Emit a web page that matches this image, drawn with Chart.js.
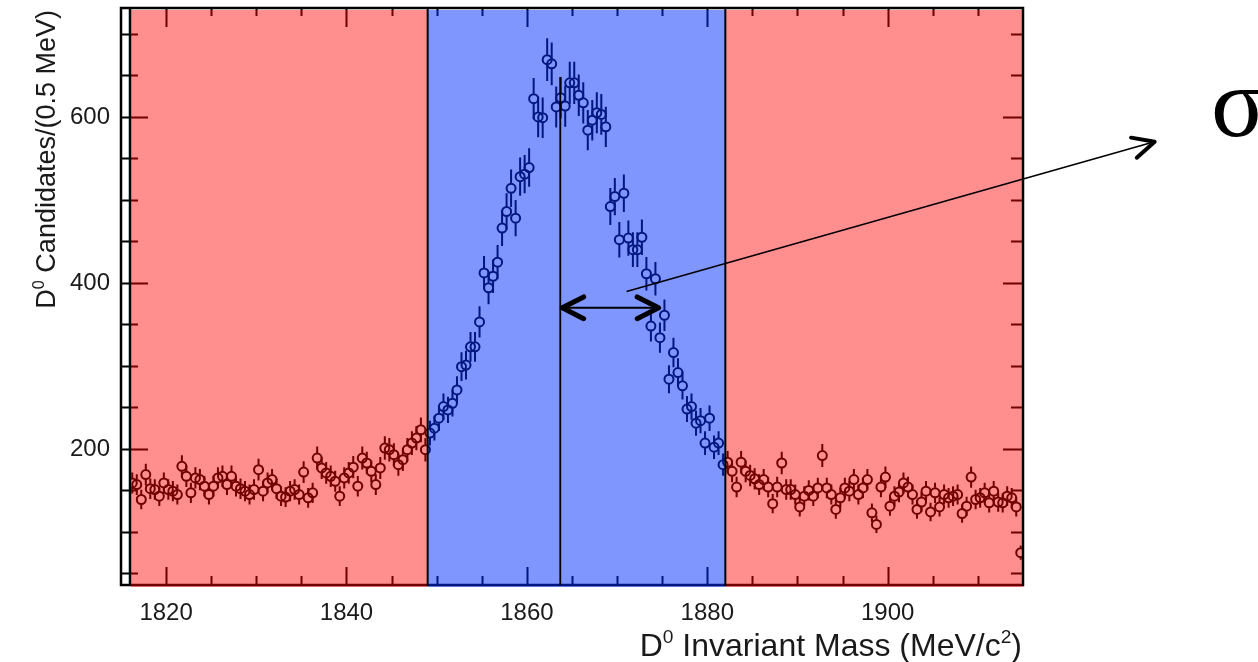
<!DOCTYPE html>
<html>
<head>
<meta charset="utf-8">
<script src="https://cdn.jsdelivr.net/npm/chart.js@4.4.1/dist/chart.umd.min.js"></script>
<style>
  html, body { margin: 0; padding: 0; background: #fff; }
</style>
</head>
<body>
<canvas id="massChart" width="1258" height="662"></canvas>
<script>
// D0 invariant mass histogram, 0.5 MeV bins from 1816 to 1915 MeV
const binStart = 1816;
const binWidth = 0.5;

// counts per bin
const lowSideband = [159, 157, 139, 169, 152, 151, 143, 159, 151, 149, 145, 179, 167, 147, 165, 163, 155, 145, 155, 165, 167, 157, 167, 155, 152, 149, 145, 151, 175, 149, 159, 163, 152, 143,
  142, 149, 151, 145, 172, 141, 147, 189, 177, 171, 167, 161, 143, 165, 171, 178, 155, 189, 183, 173, 157, 177, 201, 199, 193, 181, 187, 199, 207, 213, 223, 199];
const signalWindow = [219, 225, 237, 251, 247, 255, 271, 299, 301, 323, 323, 353, 412, 394, 408, 425, 466, 486, 514, 478, 528, 531, 539, 622, 600, 599, 669, 664, 612, 623, 613, 641, 641,
  626, 617, 584, 596, 605, 603, 588, 492, 504, 452, 508, 454, 440, 440, 455, 411, 348, 405, 334, 361, 284, 316, 292, 276, 248, 251, 231, 234, 207, 237, 202, 207, 181];
const highSideband = [184, 173, 154, 184, 173, 168, 164, 157, 163, 154, 134, 154, 183, 151, 151, 145, 130, 143, 150, 143, 153, 192, 153, 145, 127, 141, 153, 149, 163, 145, 153, 163, 123,
  109, 154, 166, 131, 143, 148, 159, 154, 145, 127, 136, 149, 124, 147, 130, 145, 141, 143, 145, 122, 131, 166, 139, 141, 147, 135, 149, 136, 135, 143, 141, 130, 75];

const xTicks = [1820, 1840, 1860, 1880, 1900];
const yTicks = [200, 400, 600];

// regions and annotation (MeV, counts)
const signalRange = [1849, 1882];
const meanMass = 1863.7;
const meanLineTop = 648;
const sigmaEdge = 1874.6;
const sigmaLevel = 370;
const pointerFrom = [1871.05, 389.5];
const pointerTo = [1929.6, 570];

const counts = lowSideband.concat(signalWindow, highSideband);
const points = counts.map((c, i) => ({ x: binStart + binWidth * (i + 0.5), y: c }));

const FONT = "'Liberation Sans', Arial, Helvetica, sans-serif";

function chevron(ctx, tx, ty, backAngle, len, spread, lw) {
  ctx.save();
  ctx.lineWidth = lw;
  ctx.lineCap = 'round';
  ctx.lineJoin = 'round';
  ctx.beginPath();
  ctx.moveTo(tx + len * Math.cos(backAngle - spread), ty + len * Math.sin(backAngle - spread));
  ctx.lineTo(tx, ty);
  ctx.lineTo(tx + len * Math.cos(backAngle + spread), ty + len * Math.sin(backAngle + spread));
  ctx.stroke();
  ctx.restore();
}

function richText(ctx, parts, x, y, size, align) {
  const widths = parts.map(p => {
    ctx.font = (p.sup ? size * 0.6 : size) + 'px ' + FONT;
    return ctx.measureText(p.t).width;
  });
  const total = widths.reduce((a, b) => a + b, 0);
  let cx = align === 'right' ? x - total : x;
  ctx.textAlign = 'left';
  ctx.textBaseline = 'alphabetic';
  parts.forEach((p, i) => {
    ctx.font = (p.sup ? size * 0.6 : size) + 'px ' + FONT;
    ctx.fillText(p.t, cx, p.sup ? y - size * 0.42 : y);
    cx += widths[i];
  });
}

const histoPlugin = {
  id: 'histo',
  beforeDraw(chart) {
    const ctx = chart.ctx;
    ctx.save();
    ctx.fillStyle = '#fff';
    ctx.fillRect(0, 0, chart.width, chart.height);
    ctx.restore();
  },
  beforeDatasetsDraw(chart) {
    const { ctx, chartArea: a, scales: { x, y } } = chart;
    ctx.save();
    // error bars (sqrt N), kept outside the marker
    ctx.beginPath();
    ctx.rect(a.left, a.top, a.right - a.left, a.bottom - a.top);
    ctx.clip();
    ctx.strokeStyle = '#000';
    ctx.lineWidth = 2;
    const r = 5;
    points.forEach(p => {
      const px = x.getPixelForValue(p.x);
      const py = y.getPixelForValue(p.y);
      const e = Math.sqrt(p.y);
      const top = y.getPixelForValue(p.y + e);
      const bot = y.getPixelForValue(p.y - e);
      ctx.beginPath();
      ctx.moveTo(px, top); ctx.lineTo(px, py - r);
      ctx.moveTo(px, py + r); ctx.lineTo(px, bot);
      ctx.stroke();
    });
    ctx.restore();

    // tick marks drawn inside the frame
    ctx.save();
    ctx.strokeStyle = '#000';
    ctx.lineWidth = 2;
    ctx.beginPath();
    for (let v = 50; v < y.max; v += 50) {
      const py = Math.round(y.getPixelForValue(v)) + 0.5;
      if (py < a.top + 2 || py > a.bottom - 2) continue;
      const major = yTicks.includes(v);
      ctx.moveTo(121, py); ctx.lineTo(a.left + (major ? 18 : 8), py);
      ctx.moveTo(a.right, py); ctx.lineTo(a.right - (major ? 20 : 12), py);
    }
    for (let v = 1820; v < x.max; v += 5) {
      const px = Math.round(x.getPixelForValue(v)) + 0.5;
      const major = xTicks.includes(v);
      ctx.moveTo(px, a.bottom); ctx.lineTo(px, a.bottom - (major ? 18 : 9));
      ctx.moveTo(px, a.top); ctx.lineTo(px, a.top + (major ? 18 : 7));
    }
    ctx.stroke();
    // frame
    ctx.lineWidth = 2.5;
    ctx.strokeRect(121, 8, a.right - 121, a.bottom - 8);
    ctx.beginPath();
    ctx.moveTo(a.left, 8); ctx.lineTo(a.left, a.bottom);
    ctx.stroke();
    ctx.restore();
  },
  afterDatasetsDraw(chart) {
    const { ctx, chartArea: a, scales: { x, y } } = chart;
    const x1 = x.getPixelForValue(signalRange[0]);
    const x2 = x.getPixelForValue(signalRange[1]);
    ctx.save();
    // translucent sideband / signal boxes
    ctx.fillStyle = 'rgba(255, 0, 0, 0.44)';
    ctx.fillRect(a.left + 1, a.top + 1, x1 - a.left - 1, a.bottom - a.top + 1);
    ctx.fillRect(x2, a.top + 1, a.right - x2, a.bottom - a.top + 1);
    ctx.fillStyle = 'rgba(0, 45, 255, 0.5)';
    ctx.fillRect(x1, a.top + 1, x2 - x1, a.bottom - a.top + 1);
    ctx.strokeStyle = '#000';
    ctx.lineWidth = 2;
    ctx.beginPath();
    ctx.moveTo(x1, a.top); ctx.lineTo(x1, a.bottom + 1);
    ctx.moveTo(x2, a.top); ctx.lineTo(x2, a.bottom + 1);
    ctx.moveTo(a.right, a.top); ctx.lineTo(a.right, a.bottom + 1);
    ctx.stroke();

    // mean line
    const mx = x.getPixelForValue(meanMass);
    ctx.lineWidth = 1.8;
    ctx.beginPath();
    ctx.moveTo(mx, y.getPixelForValue(meanLineTop));
    ctx.lineTo(mx, a.bottom);
    ctx.stroke();

    // sigma double arrow
    const sy = y.getPixelForValue(sigmaLevel);
    const sx2 = x.getPixelForValue(sigmaEdge);
    ctx.lineWidth = 2;
    ctx.beginPath();
    ctx.moveTo(mx + 2, sy); ctx.lineTo(sx2 - 2, sy);
    ctx.stroke();
    chevron(ctx, mx + 2, sy, 0, 24, 0.47, 5);
    chevron(ctx, sx2, sy, Math.PI, 24, 0.47, 5);

    // pointer towards the label
    const fx = x.getPixelForValue(pointerFrom[0]);
    const fy = y.getPixelForValue(pointerFrom[1]);
    const tx = x.getPixelForValue(pointerTo[0]);
    const ty = y.getPixelForValue(pointerTo[1]);
    ctx.lineWidth = 1.6;
    ctx.beginPath();
    ctx.moveTo(fx, fy); ctx.lineTo(tx - 2, ty + 0.5);
    ctx.stroke();
    chevron(ctx, tx, ty, Math.atan2(fy - ty, fx - tx), 24, 0.45, 4);
    ctx.restore();
  },
  afterDraw(chart) {
    const ctx = chart.ctx;
    ctx.save();
    ctx.fillStyle = '#1a1a1a';
    richText(ctx, [{ t: 'D' }, { t: '0', sup: true }, { t: ' Invariant Mass (MeV/c' }, { t: '2', sup: true }, { t: ')' }], 1022, 656, 32, 'right');
    ctx.translate(55, 10);
    ctx.rotate(-Math.PI / 2);
    richText(ctx, [{ t: 'D' }, { t: '0', sup: true }, { t: ' Candidates/(0.5 MeV)' }], 0, 0, 27, 'right');
    ctx.restore();

    ctx.save();
    ctx.fillStyle = '#000';
    ctx.font = "100px 'Liberation Serif', 'DejaVu Serif', serif";
    ctx.textAlign = 'left';
    ctx.textBaseline = 'alphabetic';
    ctx.fillText('σ', 1211, 136);
    ctx.restore();
  }
};

new Chart(document.getElementById('massChart'), {
  type: 'scatter',
  data: {
    datasets: [{
      data: points,
      pointStyle: 'circle',
      pointRadius: 4.5,
      pointBorderWidth: 2,
      borderColor: '#000',
      backgroundColor: 'rgba(0,0,0,0)',
      showLine: false
    }]
  },
  options: {
    responsive: false,
    animation: false,
    events: [],
    layout: { padding: { left: 0, right: 235, top: 9, bottom: 0 } },
    plugins: { legend: { display: false }, tooltip: { enabled: false } },
    scales: {
      x: {
        type: 'linear',
        min: 1816,
        max: 1915,
        afterBuildTicks: s => { s.ticks = xTicks.map(v => ({ value: v })); },
        afterFit: s => { s.height = 77; s.paddingLeft = 0; s.paddingRight = 0; },
        grid: { display: false, drawTicks: false },
        border: { display: false },
        ticks: { color: '#1a1a1a', font: { family: FONT, size: 24 }, padding: 14, maxRotation: 0, autoSkip: false, callback: v => String(v) }
      },
      y: {
        type: 'linear',
        min: 36,
        max: 730,
        afterBuildTicks: s => { s.ticks = yTicks.map(v => ({ value: v })); },
        afterFit: s => { s.width = 130; s.paddingTop = 0; s.paddingBottom = 0; },
        grid: { display: false, drawTicks: false },
        border: { display: false },
        ticks: { color: '#1a1a1a', font: { family: FONT, size: 24 }, padding: 20, callback: v => String(v) }
      }
    }
  },
  plugins: [histoPlugin]
});
</script>
</body>
</html>
